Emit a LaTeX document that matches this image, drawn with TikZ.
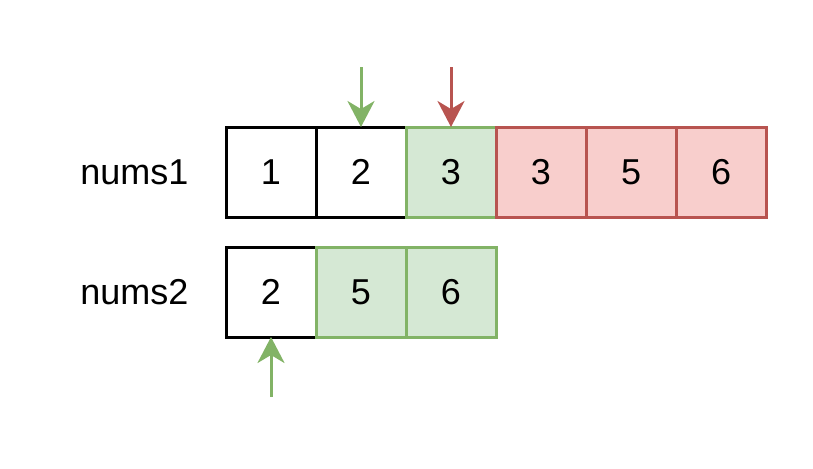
\documentclass[tikz,border=0pt]{standalone}
\usepackage{fontspec}
\setmainfont{Liberation Sans}
\usetikzlibrary{arrows.meta}
\definecolor{ink}{HTML}{000000}
\definecolor{greenline}{HTML}{82B366}
\definecolor{greensoft}{HTML}{D5E8D4}
\definecolor{redline}{HTML}{B85450}
\definecolor{redsoft}{HTML}{F8CECC}
\tikzset{
  nodebase/.style={font=\fontsize{18}{22}\selectfont, text=ink},
  cell/.style={nodebase, draw=ink, fill=white, line width=1.5pt,
    minimum width=45pt, minimum height=45pt, inner sep=0pt, outer sep=0pt},
  kept/.style={cell, draw=greenline, fill=greensoft},
  dropped/.style={cell, draw=redline, fill=redsoft},
  label/.style={nodebase, anchor=west, inner sep=0pt},
  pointer/.style={-{Stealth[length=13pt, width=13.5pt, inset=4pt]}, line width=1.5pt},
  keptarrow/.style={pointer, draw=greenline, fill=greenline},
  droparrow/.style={pointer, draw=redline, fill=redline}
}

\begin{document}
\begin{tikzpicture}[x=0.5pt,y=-0.5pt]
\useasboundingbox (0,0) rectangle (813,468);

% Row labels
\node[label] (lab1) at (80,172) {nums1};
\node[label] (lab2) at (80,292) {nums2};

% nums1
\node[cell] (a1) at (271,172) {1};
\node[cell] (a2) at (361,172) {2};
\node[kept] (a3) at (451,172) {3};
\node[dropped] (a4) at (541,172) {3};
\node[dropped] (a5) at (631,172) {5};
\node[dropped] (a6) at (721,172) {6};

% nums2
\node[cell] (b1) at (271,292) {2};
\node[kept] (b2) at (361,292) {5};
\node[kept] (b3) at (451,292) {6};

% Pointers
\coordinate (p1) at (361,67);
\coordinate (p2) at (451,67);
\coordinate (p3) at (271,397);
\draw[keptarrow] (p1) -- (a2.north);
\draw[droparrow] (p2) -- (a3.north);
\draw[keptarrow] (p3) -- (b1.south);

\end{tikzpicture}
\end{document}
